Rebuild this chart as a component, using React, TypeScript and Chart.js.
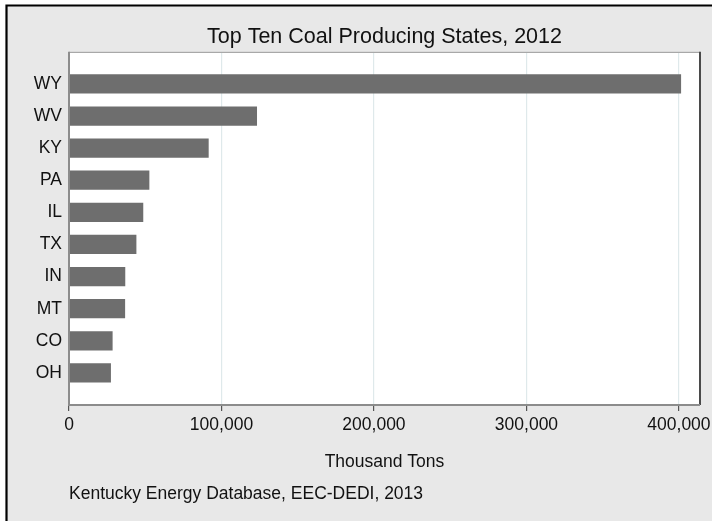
import React, { useEffect, useRef } from "react";
import { Chart, registerables } from "chart.js";

Chart.register(...registerables);

const states = ["WY", "WV", "KY", "PA", "IL", "TX", "IN", "MT", "CO", "OH"];
const production = [401400, 123300, 91600, 52700, 48700, 44200, 36900, 36800, 28600, 27500];
const xTicks = [0, 100000, 200000, 300000, 400000];
const titleText = "Top Ten Coal Producing States, 2012";
const xAxisTitle = "Thousand Tons";
const sourceText = "Kentucky Energy Database, EEC-DEDI, 2013";

const FONT = "'Liberation Sans', Arial, Helvetica, sans-serif";

const framePlugin = {
  id: "frame",
  beforeDraw(chart: any) {
    const { ctx, width, height, chartArea } = chart;
    ctx.save();
    ctx.fillStyle = "#ffffff";
    ctx.fillRect(0, 0, width, height);
    ctx.fillStyle = "#e8e8e8";
    ctx.fillRect(6, 5, width - 6, height - 5);
    ctx.strokeStyle = "#000000";
    ctx.lineWidth = 2.2;
    ctx.beginPath();
    ctx.moveTo(6.5, height);
    ctx.lineTo(6.5, 5.5);
    ctx.lineTo(width, 5.5);
    ctx.stroke();
    ctx.fillStyle = "#ffffff";
    ctx.fillRect(chartArea.left, chartArea.top, chartArea.right - chartArea.left, chartArea.bottom - chartArea.top);
    ctx.restore();
  },
  afterDatasetsDraw(chart: any) {
    const { ctx, chartArea } = chart;
    const { left, right, top, bottom } = chartArea;
    ctx.save();
    ctx.lineWidth = 1.2;
    ctx.strokeStyle = "#a8a8a8";
    ctx.beginPath();
    ctx.moveTo(left, top + 0.5);
    ctx.lineTo(right, top + 0.5);
    ctx.stroke();
    ctx.lineWidth = 2;
    ctx.strokeStyle = "#4a4a4a";
    ctx.beginPath();
    ctx.moveTo(right, top);
    ctx.lineTo(right, bottom);
    ctx.stroke();
    ctx.strokeStyle = "#8c8c8c";
    ctx.beginPath();
    ctx.moveTo(left, top);
    ctx.lineTo(left, bottom);
    ctx.lineTo(right, bottom);
    ctx.stroke();
    ctx.restore();
  },
};

export default function App() {
  const ref = useRef<HTMLCanvasElement>(null);
  useEffect(() => {
    if (!ref.current) return;
    const chart = new Chart(ref.current, {
      type: "bar",
      data: {
        datasets: [
          {
            data: states.map((s, i) => ({ x: production[i], y: i })),
            backgroundColor: "#6e6e6e",
            borderWidth: 0,
            barPercentage: 0.6,
            categoryPercentage: 1,
          },
        ],
      },
      options: {
        indexAxis: "y",
        responsive: false,
        animation: false,
        layout: { padding: { top: 0, left: 0, right: 12, bottom: 16 } },
        plugins: {
          legend: { display: false },
          tooltip: { enabled: false },
          title: {
            display: true,
            text: titleText,
            fullSize: false,
            color: "#111",
            font: { family: FONT, size: 21.5, weight: "normal" },
            padding: { top: 24, bottom: 2 },
          },
          subtitle: {
            display: true,
            text: sourceText,
            position: "bottom",
            align: "start",
            fullSize: false,
            color: "#111",
            font: { family: FONT, size: 17.5, weight: "normal" },
            padding: { top: 11, bottom: 0 },
          },
        },
        scales: {
          x: {
            type: "linear",
            min: 0,
            max: 413800,
            afterBuildTicks: (scale: any) => {
              scale.ticks = xTicks.map((v) => ({ value: v }));
            },
            afterFit: (scale: any) => {
              scale.paddingLeft = 0;
              scale.paddingRight = 0;
            },
            ticks: {
              color: "#111",
              font: { family: FONT, size: 17.5 },
              padding: 4,
              maxRotation: 0,
              autoSkip: false,
              callback: (v: any) => Number(v).toLocaleString("en-US"),
            },
            grid: {
              color: "#dfe9eb",
              lineWidth: 1.2,
              tickColor: "#555",
              tickLength: 6,
              drawTicks: true,
            },
            border: { display: false },
            title: {
              display: true,
              text: xAxisTitle,
              color: "#111",
              font: { family: FONT, size: 17.5 },
              padding: { top: 12, bottom: 0 },
            },
          },
          y: {
            type: "linear",
            min: -1,
            max: 10,
            reverse: true,
            offset: false,
            afterBuildTicks: (scale: any) => {
              scale.ticks = states.map((_, i) => ({ value: i }));
            },
            afterFit: (scale: any) => {
              scale.width = 69;
            },
            ticks: {
              color: "#111",
              font: { family: FONT, size: 17.5 },
              padding: 7,
              autoSkip: false,
              callback: (v: any) => states[v] ?? "",
            },
            grid: { display: false, drawTicks: false },
            border: { display: false },
          },
        },
      },
      plugins: [framePlugin],
    } as any);
    return () => chart.destroy();
  }, []);
  return (
    <div style={{ position: "fixed", left: 0, top: 0, width: 712, height: 521 }}>
      <canvas ref={ref} width={712} height={521} style={{ display: "block" }} />
    </div>
  );
}
